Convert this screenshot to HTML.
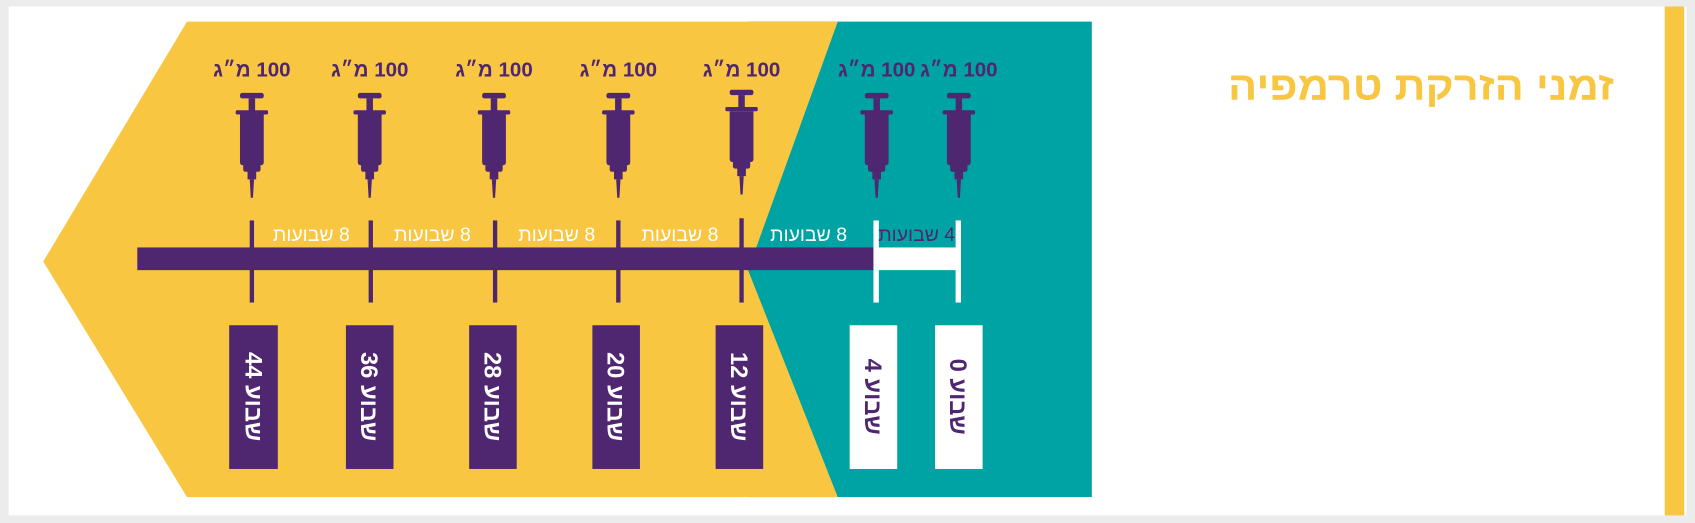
<!DOCTYPE html>
<html><head><meta charset="utf-8"><style>
html,body{margin:0;padding:0;background:#ececec;width:1695px;height:523px;overflow:hidden}
svg{display:block}
text{font-family:"Liberation Sans Narrow","Liberation Sans","DejaVu Sans Condensed",sans-serif}
</style></head><body>
<svg width="1695" height="523" viewBox="0 0 1568 484" preserveAspectRatio="none" xmlns="http://www.w3.org/2000/svg">
<defs>
<g id="syr" fill="#4F2670">
<rect x="4" y="0" width="22" height="5" rx="2"/>
<rect x="12" y="5" width="6" height="12"/>
<rect x="0" y="16" width="30" height="4" rx="1.5"/>
<path d="M4 20 H26 V64 Q26 67 23 67 H7 Q4 67 4 64 Z"/>
<rect x="7" y="66" width="16" height="7" rx="2"/>
<rect x="11" y="72" width="8" height="8"/>
<polygon points="13,80 17,80 16,97 14,97"/>
</g>
</defs>
<rect x="8" y="6" width="1552" height="471" fill="#fff"/>
<rect x="1540" y="6" width="18" height="471" fill="#F9C642"/>
<rect x="692" y="20" width="318" height="440" fill="#00A3A3"/>
<polygon points="40,242 173,20 775,20 692,250 775,460 173,460" fill="#F9C642"/>
<text x="1493" y="92" direction="rtl" text-anchor="start" font-size="37" font-weight="bold" fill="#F9C642" textLength="357" lengthAdjust="spacingAndGlyphs" style="font-family:'Liberation Sans','DejaVu Sans',sans-serif">זמני הזרקת טרמפיה</text>
<g font-size="19" font-weight="bold" fill="#4F2670" text-anchor="middle" direction="rtl">
<text x="233" y="71">100 מ״ג</text>
<text x="342" y="71">100 מ״ג</text>
<text x="457" y="71">100 מ״ג</text>
<text x="572" y="71">100 מ״ג</text>
<text x="686" y="71">100 מ״ג</text>
<text x="811" y="71">100 מ״ג</text>
<text x="887" y="71">100 מ״ג</text>
</g>
<use href="#syr" x="218" y="86"/>
<use href="#syr" x="327" y="86"/>
<use href="#syr" x="442" y="86"/>
<use href="#syr" x="557" y="86"/>
<use href="#syr" x="671" y="83"/>
<use href="#syr" x="796" y="86"/>
<use href="#syr" x="872" y="86"/>
<rect x="127" y="229" width="683" height="21" fill="#4F2670"/>
<g fill="#4F2670">
<rect x="231" y="204" width="4" height="76"/>
<rect x="341" y="204" width="4" height="76"/>
<rect x="456" y="204" width="4" height="76"/>
<rect x="570" y="204" width="4" height="76"/>
<rect x="684" y="202" width="4" height="78"/>
</g>
<g fill="#fff">
<rect x="808" y="204" width="5" height="76"/>
<rect x="884" y="204" width="5" height="76"/>
<rect x="810" y="229" width="76" height="21"/>
</g>
<g font-size="18" fill="#fff" text-anchor="middle" direction="rtl">
<text x="288" y="223">8 שבועות</text>
<text x="400" y="223">8 שבועות</text>
<text x="515" y="223">8 שבועות</text>
<text x="629" y="223">8 שבועות</text>
<text x="748" y="223">8 שבועות</text>
<text x="848" y="223" fill="#4F2670">4 שבועות</text>
</g>
<g fill="#4F2670">
<rect x="212" y="301" width="45" height="133"/>
<rect x="320" y="301" width="44" height="133"/>
<rect x="434" y="301" width="44" height="133"/>
<rect x="548" y="301" width="44" height="133"/>
<rect x="662" y="301" width="44" height="133"/>
</g>
<g fill="#fff">
<rect x="786" y="301" width="44" height="133"/>
<rect x="865" y="301" width="44" height="133"/>
</g>
<g font-size="22" font-weight="bold" text-anchor="middle" direction="rtl" fill="#fff">
<text transform="translate(227,367) rotate(90)">שבוע 44</text>
<text transform="translate(334,367) rotate(90)">שבוע 36</text>
<text transform="translate(448,367) rotate(90)">שבוע 28</text>
<text transform="translate(562,367) rotate(90)">שבוע 20</text>
<text transform="translate(676,367) rotate(90)">שבוע 12</text>
<text transform="translate(800,367) rotate(90)" fill="#4F2670">שבוע 4</text>
<text transform="translate(879,367) rotate(90)" fill="#4F2670">שבוע 0</text>
</g>
</svg>
</body></html>
